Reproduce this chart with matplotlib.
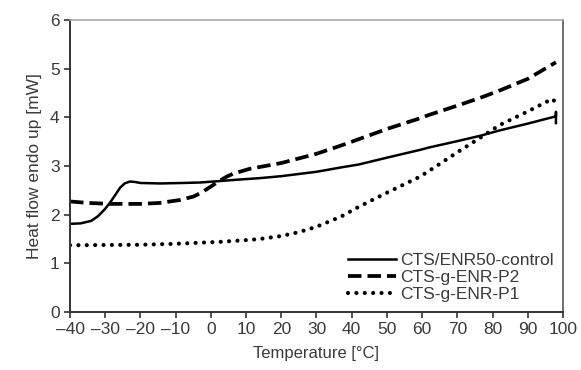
import numpy as np
import matplotlib.pyplot as plt

plt.rcParams['font.family'] = ['Liberation Sans', 'DejaVu Sans']

# DSC traces read per sample
t_control = [-40, -37, -34, -32, -30, -28.6, -27, -25.8, -24.5, -23, -21.5, -20, -14.5, -8, -3, 2.6, 8, 14, 20, 30, 37, 42, 50, 59.4, 62, 70, 76.5, 82, 90, 98, 98, 98]
hf_control = [1.81, 1.82, 1.87, 1.97, 2.12, 2.25, 2.42, 2.55, 2.64, 2.68, 2.67, 2.65, 2.64, 2.65, 2.66, 2.69, 2.72, 2.75, 2.79, 2.88, 2.97, 3.03, 3.17, 3.33, 3.38, 3.51, 3.62, 3.73, 3.87, 4.02, 4.11, 3.88]

t_p2 = [-40, -35, -28.6, -20, -14.5, -8.8, -5, -3, -1.2, 0.7, 2.6, 4.5, 6.3, 11, 14, 20, 30, 37, 42, 50, 59.4, 62, 70, 76.5, 82, 90, 98]
hf_p2 = [2.27, 2.24, 2.22, 2.22, 2.24, 2.30, 2.37, 2.44, 2.52, 2.61, 2.70, 2.78, 2.84, 2.94, 2.98, 3.06, 3.25, 3.42, 3.55, 3.76, 3.98, 4.05, 4.24, 4.40, 4.55, 4.79, 5.13]

t_p1 = [-40, -20, -10, 2.6, 11, 14, 20, 25, 30, 37, 42, 50, 59.4, 62, 70, 76.5, 82, 90, 97, 98.5]
hf_p1 = [1.37, 1.38, 1.40, 1.44, 1.48, 1.50, 1.56, 1.64, 1.75, 1.96, 2.16, 2.45, 2.78, 2.90, 3.28, 3.58, 3.84, 4.12, 4.38, 4.25]

x_ticks = list(range(-40, 101, 10))
y_ticks = list(range(0, 7))

fig = plt.figure(figsize=(5.81, 3.70), dpi=100)
ax = fig.add_axes([0.1205, 0.157, 0.8485, 0.789])

ax.plot(t_control, hf_control, color='black', lw=1.8, label='CTS/ENR50-control')
ax.plot(t_p2, hf_p2, color='black', lw=2.7, ls=(0, (3.6, 1.6)), label='CTS-g-ENR-P2')
ax.plot(t_p1, hf_p1, color='black', lw=3.0, ls=(0, (0.01, 2.0)),
        dash_capstyle='round', label='CTS-g-ENR-P1')

ax.set_xlim(-40, 100)
ax.set_ylim(0, 6)
ax.set_xticks(x_ticks)
ax.set_yticks(y_ticks)
ax.set_xticklabels([str(v).replace('-', '\u2013') for v in x_ticks])
ax.tick_params(direction='out', length=4, width=1.2, colors='#333333',
               labelsize=12.5, labelcolor='#3a3a3a')
ax.tick_params(axis='x', pad=3)

for side in ['left', 'bottom']:
    ax.spines[side].set_color('#333333')
    ax.spines[side].set_linewidth(1.4)
ax.spines['right'].set_color('#555555')
ax.spines['right'].set_linewidth(1.2)
ax.spines['top'].set_color('#aaaaaa')
ax.spines['top'].set_linewidth(1.2)

ax.set_xlabel('Temperature [°C]', fontsize=12, color='#3a3a3a', labelpad=7)
ax.set_ylabel('Heat flow endo up [mW]', fontsize=12.5, color='#3a3a3a', labelpad=6)

leg = ax.legend(loc='lower right', frameon=False, fontsize=12.5, handlelength=2.8,
                handletextpad=0.2, labelspacing=0.12, borderaxespad=0.15)
for txt in leg.get_texts():
    txt.set_color('#3a3a3a')

fig.savefig('out.png', dpi=100)
